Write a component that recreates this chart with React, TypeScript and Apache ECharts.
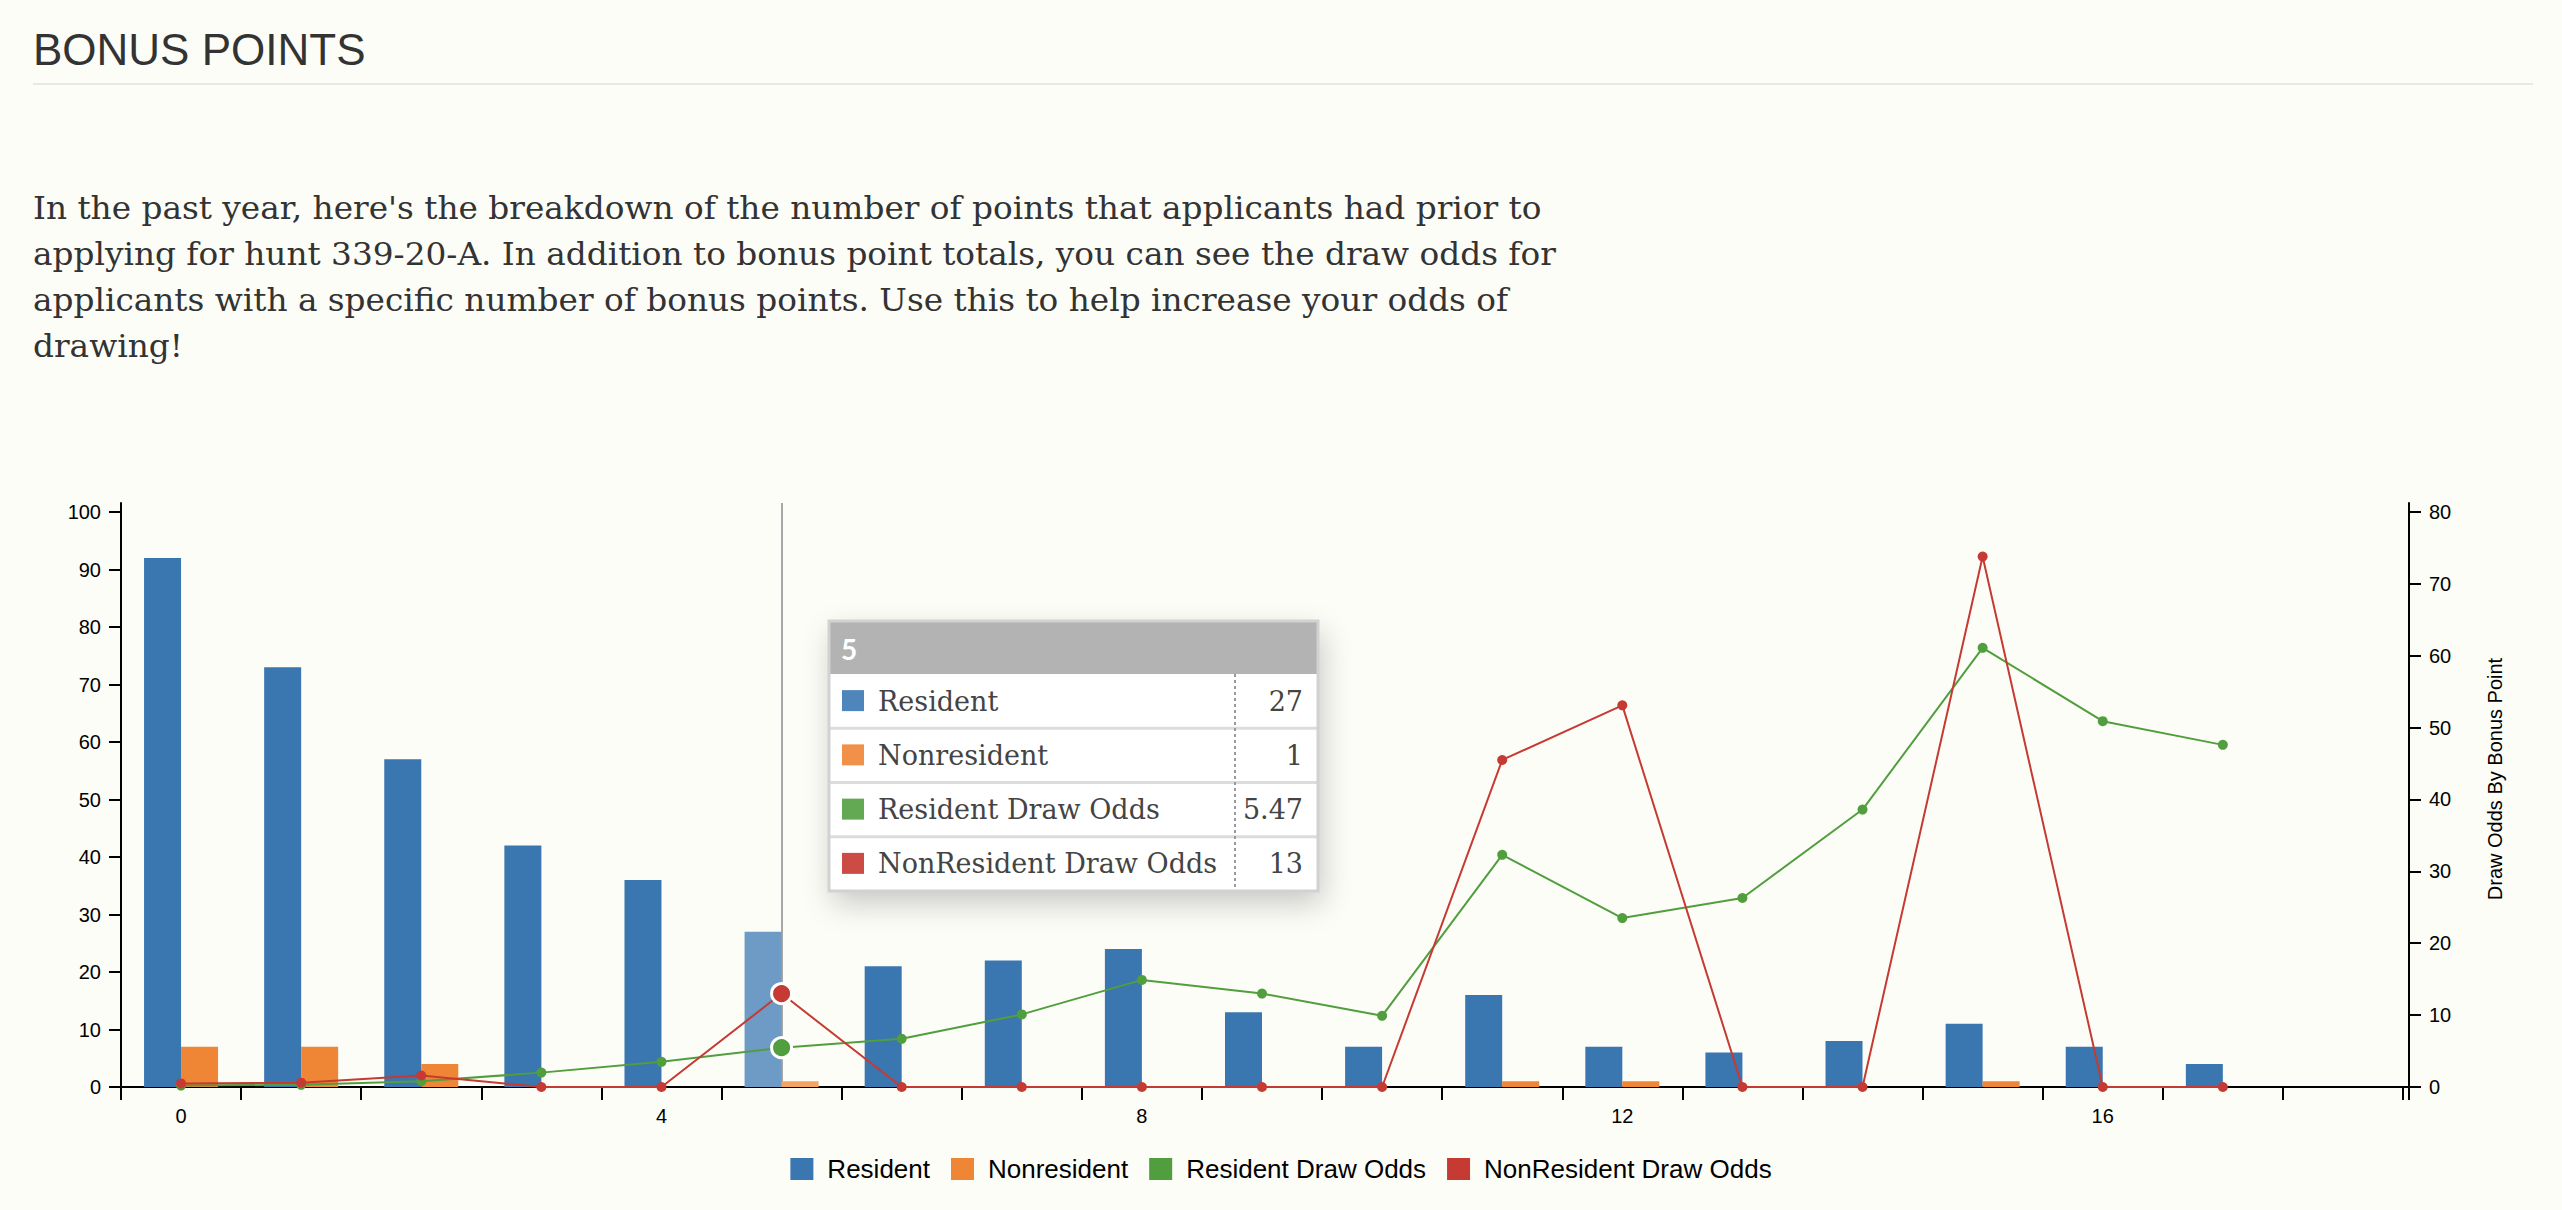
import React, { useEffect, useRef } from "react";
import * as echarts from "echarts";

const categories = ["0", "1", "2", "3", "4", "5", "6", "7", "8", "9", "10", "11", "12", "13", "14", "15", "16", "17", "18"];
const resident = [92, 73, 57, 42, 36, 27, 21, 22, 24, 13, 7, 16, 7, 6, 8, 11, 7, 4, null];
const nonresident = [7, 7, 4, 0, 0, 1, 0, 0, 0, 0, 0, 1, 1, 0, 0, 1, 0, 0, null];
const residentOdds = [0.2, 0.3, 0.8, 2.0, 3.5, 5.47, 6.7, 10.1, 14.9, 13.0, 9.9, 32.3, 23.5, 26.3, 38.6, 61.1, 50.9, 47.6, null];
const nonresidentOdds = [0.5, 0.6, 1.6, 0, 0, 13, 0, 0, 0, 0, 0, 45.5, 53.1, 0, 0, 73.8, 0, 0, null];
const seriesNames = ["Resident", "Nonresident", "Resident Draw Odds", "NonResident Draw Odds"];
const leftTicks = { min: 0, max: 101.57, interval: 10 };
const rightTicks = { min: 0, max: 81.25, interval: 10 };
const highlightIndex = 5;

const paragraphLines = [
  "In the past year, here's the breakdown of the number of points that applicants had prior to",
  "applying for hunt 339-20-A. In addition to bonus point totals, you can see the draw odds for",
  "applicants with a specific number of bonus points. Use this to help increase your odds of",
  "drawing!",
];

const BG = "#fdfdf8";
const COLORS = ["#3a76af", "#ef8636", "#519e3e", "#c53a32"];
const HL_COLORS = ["#6d9bc5", "#f4a462"];
const TIP_COLORS = ["#4e85ba", "#f19149", "#63a853", "#cc4b44"];
const SANS = "'Liberation Sans', Arial, Helvetica, sans-serif";
const SLAB = "'DejaVu Serif', serif";

function buildOption() {
  const barData = (vals: (number | null)[], hl: string) =>
    vals.map((v, i) => (i === highlightIndex ? { value: v, itemStyle: { color: hl } } : v));
  const lineData = (vals: (number | null)[], color: string) =>
    vals.map((v, i) =>
      i === highlightIndex
        ? { value: v, symbolSize: 20, itemStyle: { color, borderColor: "#fff", borderWidth: 3 } }
        : v
    );

  const tipValues = [
    resident[highlightIndex],
    nonresident[highlightIndex],
    residentOdds[highlightIndex],
    nonresidentOdds[highlightIndex],
  ];

  const tx0 = 829, tx1 = 1318, ty0 = 621, ty1 = 891, headH = 53;
  const rowH = (ty1 - ty0 - headH) / 4;
  const tipChildren: any[] = [
    {
      type: "rect",
      shape: { x: tx0, y: ty0, width: tx1 - tx0, height: ty1 - ty0 },
      style: { fill: "#ffffff", shadowBlur: 30, shadowColor: "rgba(0,0,0,0.22)", shadowOffsetX: 4, shadowOffsetY: 12 },
    },
    {
      type: "rect",
      shape: { x: tx0, y: ty0, width: tx1 - tx0, height: headH },
      style: { fill: "#b3b3b3" },
    },
    {
      type: "text",
      x: tx0 + 12,
      y: ty0 + headH / 2 + 1,
      style: { text: categories[highlightIndex], fill: "#ffffff", fontSize: 28, fontWeight: "bold", fontFamily: "Lato, sans-serif", verticalAlign: "middle", align: "left" },
    },
  ];
  for (let r = 0; r < 4; r++) {
    const yTop = ty0 + headH + r * rowH;
    const yc = yTop + rowH / 2;
    if (r > 0) {
      tipChildren.push({
        type: "line",
        shape: { x1: tx0, y1: yTop, x2: tx1, y2: yTop },
        style: { stroke: "#dcdcdc", lineWidth: 3 },
      });
    }
    tipChildren.push({
      type: "rect",
      shape: { x: 842, y: yc - 11, width: 22, height: 21 },
      style: { fill: TIP_COLORS[r] },
    });
    tipChildren.push({
      type: "text",
      x: 878,
      y: yc,
      style: { text: seriesNames[r], fill: "#444", fontSize: 27, fontFamily: SLAB, verticalAlign: "middle", align: "left" },
    });
    tipChildren.push({
      type: "text",
      x: 1303,
      y: yc,
      style: { text: String(tipValues[r]), fill: "#444", fontSize: 27, fontFamily: SLAB, verticalAlign: "middle", align: "right" },
    });
  }
  tipChildren.push({
    type: "line",
    shape: { x1: 1235, y1: ty0 + headH, x2: 1235, y2: ty1 },
    style: { stroke: "#9a9a9a", lineWidth: 2, lineDash: [3, 3] },
  });
  tipChildren.push({
    type: "rect",
    shape: { x: tx0, y: ty0, width: tx1 - tx0, height: ty1 - ty0 },
    style: { fill: "none", stroke: "#d2d2d2", lineWidth: 3 },
  });

  const graphic: any[] = [
    {
      type: "text",
      x: 33,
      y: 49,
      style: { text: "BONUS POINTS", fill: "#333", fontSize: 44, fontFamily: SANS, verticalAlign: "middle", align: "left" },
    },
    {
      type: "line",
      shape: { x1: 33, y1: 84, x2: 2533, y2: 84 },
      style: { stroke: "#e8e8e6", lineWidth: 2 },
    },
    ...paragraphLines.map((t, i) => ({
      type: "text",
      x: 33,
      y: 208 + i * 46,
      scaleX: 1.057,
      style: { text: t, fill: "#333", fontSize: 31, fontFamily: SLAB, verticalAlign: "middle", align: "left" },
    })),
    {
      type: "text",
      x: 2495,
      y: 779,
      rotation: Math.PI / 2,
      style: { text: "Draw Odds By Bonus Point", fill: "#000", fontSize: 20, fontFamily: SANS, verticalAlign: "middle", align: "center" },
    },
    {
      type: "line",
      shape: { x1: 2402, y1: 1087, x2: 2410, y2: 1087 },
      style: { stroke: "#000", lineWidth: 2 },
    },
    {
      type: "line",
      shape: { x1: 2409, y1: 1087, x2: 2409, y2: 1100 },
      style: { stroke: "#000", lineWidth: 2 },
    },
    { type: "group", z: 100, children: tipChildren },
  ];

  const axisCommon = {
    axisLine: { show: true, lineStyle: { color: "#000", width: 2 } },
    axisTick: { show: true, length: 12, lineStyle: { color: "#000", width: 2 } },
    splitLine: { show: false },
  };

  return {
    animation: false,
    backgroundColor: BG,
    textStyle: { fontFamily: SANS },
    grid: { left: 121, top: 503, width: 2282, height: 584, containLabel: false },
    legend: {
      left: "center",
      top: 1151,
      icon: "rect",
      itemWidth: 23,
      itemHeight: 22,
      itemGap: 21,
      data: seriesNames,
      textStyle: { fontSize: 26, color: "#000", fontFamily: SANS, padding: [0, 0, 0, 9] },
    },
    xAxis: {
      type: "category",
      data: categories,
      boundaryGap: true,
      ...axisCommon,
      axisTick: { show: true, length: 13, interval: 0, alignWithLabel: false, lineStyle: { color: "#000", width: 2 } },
      axisLabel: { interval: 3, fontSize: 20, color: "#000", margin: 19, fontFamily: SANS },
    },
    yAxis: [
      {
        type: "value",
        position: "left",
        ...leftTicks,
        ...axisCommon,
        axisLabel: { fontSize: 20, color: "#000", margin: 20, fontFamily: SANS, showMaxLabel: false },
      },
      {
        type: "value",
        position: "right",
        offset: 6,
        ...rightTicks,
        ...axisCommon,
        axisLabel: { fontSize: 20, color: "#000", margin: 20, fontFamily: SANS, showMaxLabel: false },
      },
    ],
    series: [
      {
        name: seriesNames[0],
        type: "bar",
        data: barData(resident, HL_COLORS[0]),
        barWidth: 37,
        barGap: "0%",
        z: 2,
        itemStyle: { color: COLORS[0] },
      },
      {
        name: seriesNames[1],
        type: "bar",
        data: barData(nonresident, HL_COLORS[1]),
        barWidth: 37,
        barGap: "0%",
        z: 2,
        itemStyle: { color: COLORS[1] },
      },
      {
        name: "guide",
        type: "line",
        data: [],
        silent: true,
        z: 2,
        markLine: {
          silent: true,
          z: 2,
          symbol: ["none", "none"],
          label: { show: false },
          lineStyle: { color: "#a8a8a8", width: 2, type: "solid" },
          data: [{ xAxis: highlightIndex }],
        },
      },
      {
        name: seriesNames[2],
        type: "line",
        yAxisIndex: 1,
        z: 4,
        data: lineData(residentOdds, COLORS[2]),
        symbol: "circle",
        symbolSize: 10,
        showSymbol: true,
        lineStyle: { width: 2, color: COLORS[2] },
        itemStyle: { color: COLORS[2] },
      },
      {
        name: seriesNames[3],
        type: "line",
        yAxisIndex: 1,
        z: 5,
        data: lineData(nonresidentOdds, COLORS[3]),
        symbol: "circle",
        symbolSize: 10,
        showSymbol: true,
        lineStyle: { width: 2, color: COLORS[3] },
        itemStyle: { color: COLORS[3] },
      },
    ],
    graphic,
  };
}

export default function App() {
  const ref = useRef<HTMLDivElement>(null);
  useEffect(() => {
    document.body.style.margin = "0";
    document.body.style.background = BG;
    const chart = echarts.init(ref.current as HTMLDivElement, null, { renderer: "svg" });
    chart.setOption(buildOption() as any);
    return () => chart.dispose();
  }, []);
  return <div ref={ref} style={{ width: 2562, height: 1210 }} />;
}
